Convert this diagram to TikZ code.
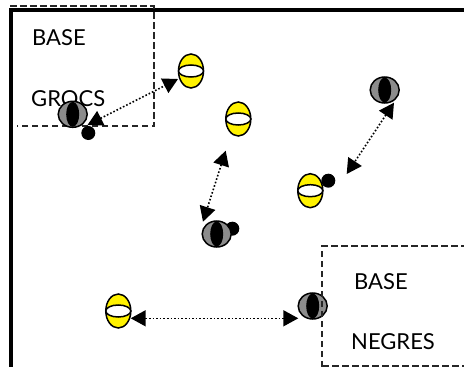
\documentclass[tikz,border=0pt]{standalone}
\usepackage{fontspec}
\setmainfont{Lato}
\usetikzlibrary{arrows.meta,shapes.geometric}
\tikzset{
  x=1pt,y=-1pt,
  frameline/.style={line width=4pt,line cap=rect},
  basebox/.style={line width=1.7pt,dash pattern=on 6.5pt off 3.5pt,draw=black!85},
  label/.style={font=\fontsize{22}{22}\selectfont,inner sep=0pt,text=black},
  yellowfig/.style={ellipse,draw=black,line width=1.5pt,fill=yellow,minimum width=25pt,minimum height=34pt,inner sep=0pt},
  yellowband/.style={ellipse,draw=black,line width=1.5pt,fill=white,minimum width=25pt,minimum height=12pt,inner sep=0pt},
  greyfig/.style={ellipse,draw=black,line width=1.5pt,fill=black!45,minimum width=29pt,minimum height=26pt,inner sep=0pt},
  greyband/.style={ellipse,fill=black,minimum width=13pt,minimum height=25pt,inner sep=0pt},
  ball/.style={circle,fill=black,minimum size=14pt,inner sep=0pt},
  pass/.style={line width=1.6pt,dotted,{Triangle[length=15pt,width=16pt]}-{Triangle[length=15pt,width=16pt]}},
}
\begin{document}
\begin{tikzpicture}
\useasboundingbox (0,0) rectangle (464,367);
% frame
\coordinate (frameA) at (10.5,367);
\coordinate (frameB) at (10.5,9.5);
\coordinate (frameC) at (464,9.5);
\draw[frameline] (frameA) -- (frameB) -- (frameC);
% labels
\node[label,anchor=west] (baseA) at (32,38) {BASE};
\node[label,anchor=west] (grocs) at (31,99) {GROCS};
\node[label,anchor=west] (baseB) at (354,282) {BASE};
\node[label,anchor=west] (negres) at (351,342) {NEGRES};
% base boxes
\coordinate (boxAa) at (10,6);
\coordinate (boxAb) at (154,6);
\coordinate (boxAc) at (154,126);
\coordinate (boxAd) at (17,126);
\draw[basebox] (boxAa) -- (boxAb) -- (boxAc) -- (boxAd);
% balls
\node[ball] (ballA) at (88.3,133) {};
\node[ball] (ballB) at (328.3,180.7) {};
\node[ball] (ballC) at (232.3,228.7) {};
% yellow players
\node[yellowfig] (yA) at (191,71) {};
\node[yellowband] (yAb) at (191,71) {};
\node[yellowfig] (yB) at (238.3,119) {};
\node[yellowband] (yBb) at (238.3,119) {};
\node[yellowfig] (yC) at (310.3,190.7) {};
\node[yellowband] (yCb) at (310.3,190.7) {};
\node[yellowfig] (yD) at (118.3,311) {};
\node[yellowband] (yDb) at (118.3,311) {};
% grey players
\node[greyfig] (gA) at (72.7,114.3) {};
\node[greyband] (gAb) at (72.7,114.3) {};
\node[greyfig] (gB) at (216.7,234) {};
\node[greyband] (gBb) at (216.7,234) {};
\node[greyfig] (gC) at (384.7,90) {};
\node[greyband] (gCb) at (384.7,90) {};
\node[greyfig] (gD) at (312.7,306) {};
\node[greyband] (gDb) at (312.7,306) {};
% second box, over the grey player
\coordinate (boxBa) at (322,367);
\coordinate (boxBb) at (322,246);
\coordinate (boxBc) at (464,246);
\coordinate (boxBd) at (322,366);
\coordinate (boxBe) at (464,366);
\draw[basebox] (boxBa) -- (boxBb) -- (boxBc);
\draw[basebox] (boxBd) -- (boxBe);
% passes
\coordinate (pAa) at (87.5,125);
\coordinate (pAb) at (178,79);
\coordinate (pBa) at (225.7,150.7);
\coordinate (pBb) at (203,221.7);
\coordinate (pCa) at (394,102.7);
\coordinate (pCb) at (346.7,174);
\coordinate (pDa) at (130.7,318.3);
\coordinate (pDb) at (298.3,318.3);
\draw[pass] (pAa) -- (pAb);
\draw[pass] (pBa) -- (pBb);
\draw[pass] (pCa) -- (pCb);
\draw[pass] (pDa) -- (pDb);
\end{tikzpicture}
\end{document}
